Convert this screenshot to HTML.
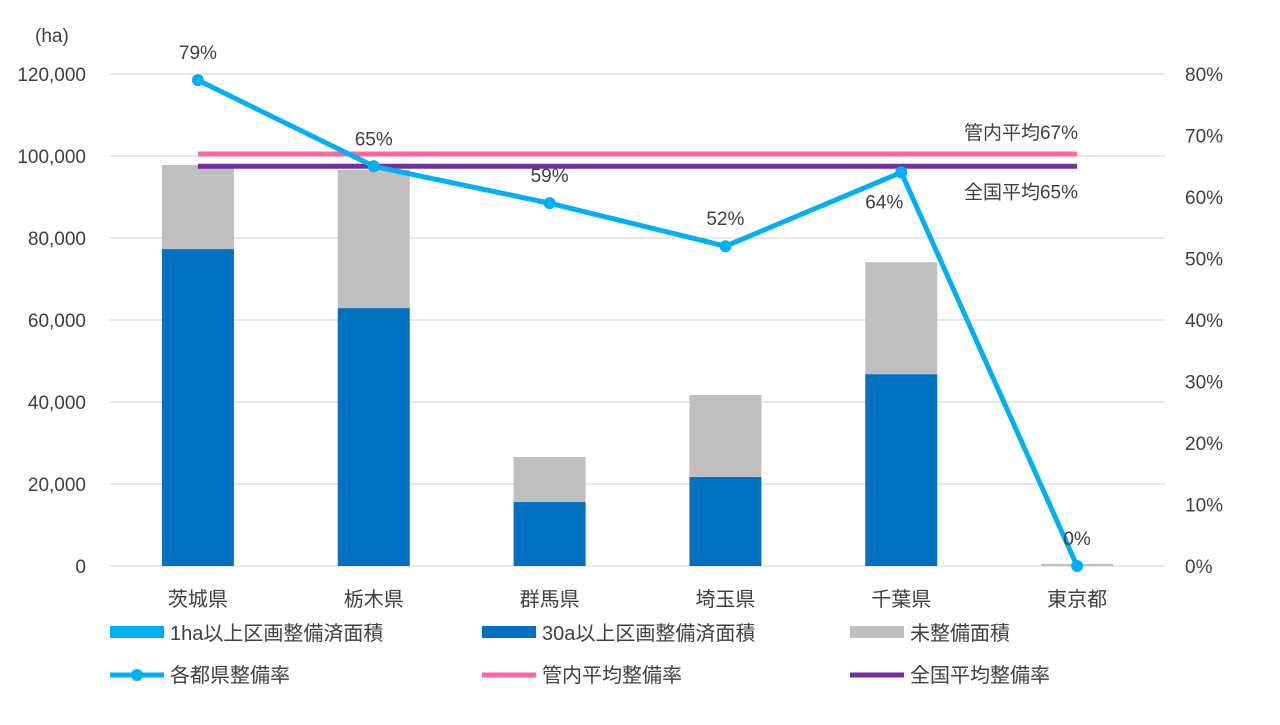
<!DOCTYPE html>
<html><head><meta charset="utf-8"><style>
body{margin:0;background:#fff;}
svg text{font-family:"Liberation Sans","Noto Sans CJK JP",sans-serif;fill:#404040;}
</style></head><body>
<svg id="chart" width="1280" height="720" xmlns="http://www.w3.org/2000/svg">
<g id="grid"></g>
<g id="bars"></g>
<g id="lines"></g>
<g id="labels"></g>
<text x="35" y="42" font-size="19">(ha)</text>
<g font-size="20">
<rect x="110" y="626" width="54" height="12" fill="#00b0f0"/>
<text x="170" y="640">1ha以上区画整備済面積</text>
<rect x="482" y="626" width="54" height="12" fill="#0070c0"/>
<text x="542" y="640">30a以上区画整備済面積</text>
<rect x="850" y="626" width="54" height="12" fill="#bfbfbf"/>
<text x="910" y="640">未整備面積</text>
<line x1="110" y1="675" x2="164" y2="675" stroke="#00b0f0" stroke-width="5"/>
<circle cx="137" cy="675" r="6" fill="#00b0f0"/>
<text x="170" y="682">各都県整備率</text>
<line x1="482" y1="675" x2="536" y2="675" stroke="#ff66a3" stroke-width="5"/>
<text x="542" y="682">管内平均整備率</text>
<line x1="850" y1="675" x2="904" y2="675" stroke="#7030a0" stroke-width="5"/>
<text x="910" y="682">全国平均整備率</text>
</g>
</svg>
<script>
const categories=["茨城県","栃木県","群馬県","埼玉県","千葉県","東京都"];
const area1ha=[0,0,0,0,0,0];
const area30a=[77300,62900,15600,21700,46800,0];
const areaUnimproved=[20500,33700,11000,20000,27300,500];
const rates=[79,65,59,52,64,0];
const regionalAvg=67;
const nationalAvg=65;
const leftTicks=[0,20000,40000,60000,80000,100000,120000];
const rightTicks=[0,10,20,30,40,50,60,70,80];
const NS="http://www.w3.org/2000/svg";
const x0=110,x1=1165,yB=566,yT=74;
const yL=v=>yB-(v/120000)*(yB-yT);
const yR=v=>yB-(v/80)*(yB-yT);
const band=(x1-x0)/categories.length;
const xC=i=>x0+band*(i+0.5);
function mk(tag,attrs,parent,txt){const e=document.createElementNS(NS,tag);for(const k in attrs)e.setAttribute(k,attrs[k]);if(txt!==undefined)e.textContent=txt;document.getElementById(parent).appendChild(e);return e;}
leftTicks.forEach(t=>{
 const l=mk('line',{x1:x0,x2:x1,y1:yL(t),y2:yL(t),stroke:'#d9d9d9','stroke-width':1.3},'grid');
 
 
 const tx=mk('text',{x:86,y:yL(t)+7,'text-anchor':'end','font-size':19},'labels',t.toLocaleString('en-US'));
 
 
});
rightTicks.forEach(t=>{
 const tx=mk('text',{x:1185,y:yR(t)+7,'font-size':19},'labels',t+'%');
 
 
});
const bw=72;
categories.forEach((c,i)=>{
 let base=0;
 [[area1ha,'#00b0f0','bar-1ha'],[area30a,'#0070c0','bar-30a'],[areaUnimproved,'#bfbfbf','bar-unimproved']].forEach(([arr,col,nm])=>{
  const v=arr[i];
  const r=mk('rect',{x:xC(i)-bw/2,y:yL(base+v),width:bw,height:yL(base)-yL(base+v),fill:col},'bars');
  
  
  base+=v;
 });
 const tx=mk('text',{x:xC(i),y:606,'text-anchor':'middle','font-size':20},'labels',c);
 
 
});
const pl=mk('line',{x1:xC(0),x2:xC(5),y1:yR(regionalAvg),y2:yR(regionalAvg),stroke:'#ff66a3','stroke-width':5},'lines');


const nl=mk('line',{x1:xC(0),x2:xC(5),y1:yR(nationalAvg),y2:yR(nationalAvg),stroke:'#7030a0','stroke-width':5},'lines');


const t1=mk('text',{x:1078,y:yR(regionalAvg)-15,'text-anchor':'end','font-size':19},'labels','管内平均'+regionalAvg+'%');


const t2=mk('text',{x:1078,y:yR(nationalAvg)+32,'text-anchor':'end','font-size':19},'labels','全国平均'+nationalAvg+'%');


const rl=mk('polyline',{points:rates.map((r,i)=>xC(i)+','+yR(r)).join(' '),fill:'none',stroke:'#00b0f0','stroke-width':5,'stroke-linejoin':'round'},'lines');


rates.forEach((r,i)=>{
 const c=mk('circle',{cx:xC(i),cy:yR(r),r:6,fill:'#00b0f0'},'lines');
 
 
 const dy=(i===4)?36:-21;
 const dx=(i===4)?-17:0;
 const t=mk('text',{x:xC(i)+dx,y:yR(r)+dy,'text-anchor':'middle','font-size':19},'labels',r+'%');
 
 
});
</script>
</body></html>
